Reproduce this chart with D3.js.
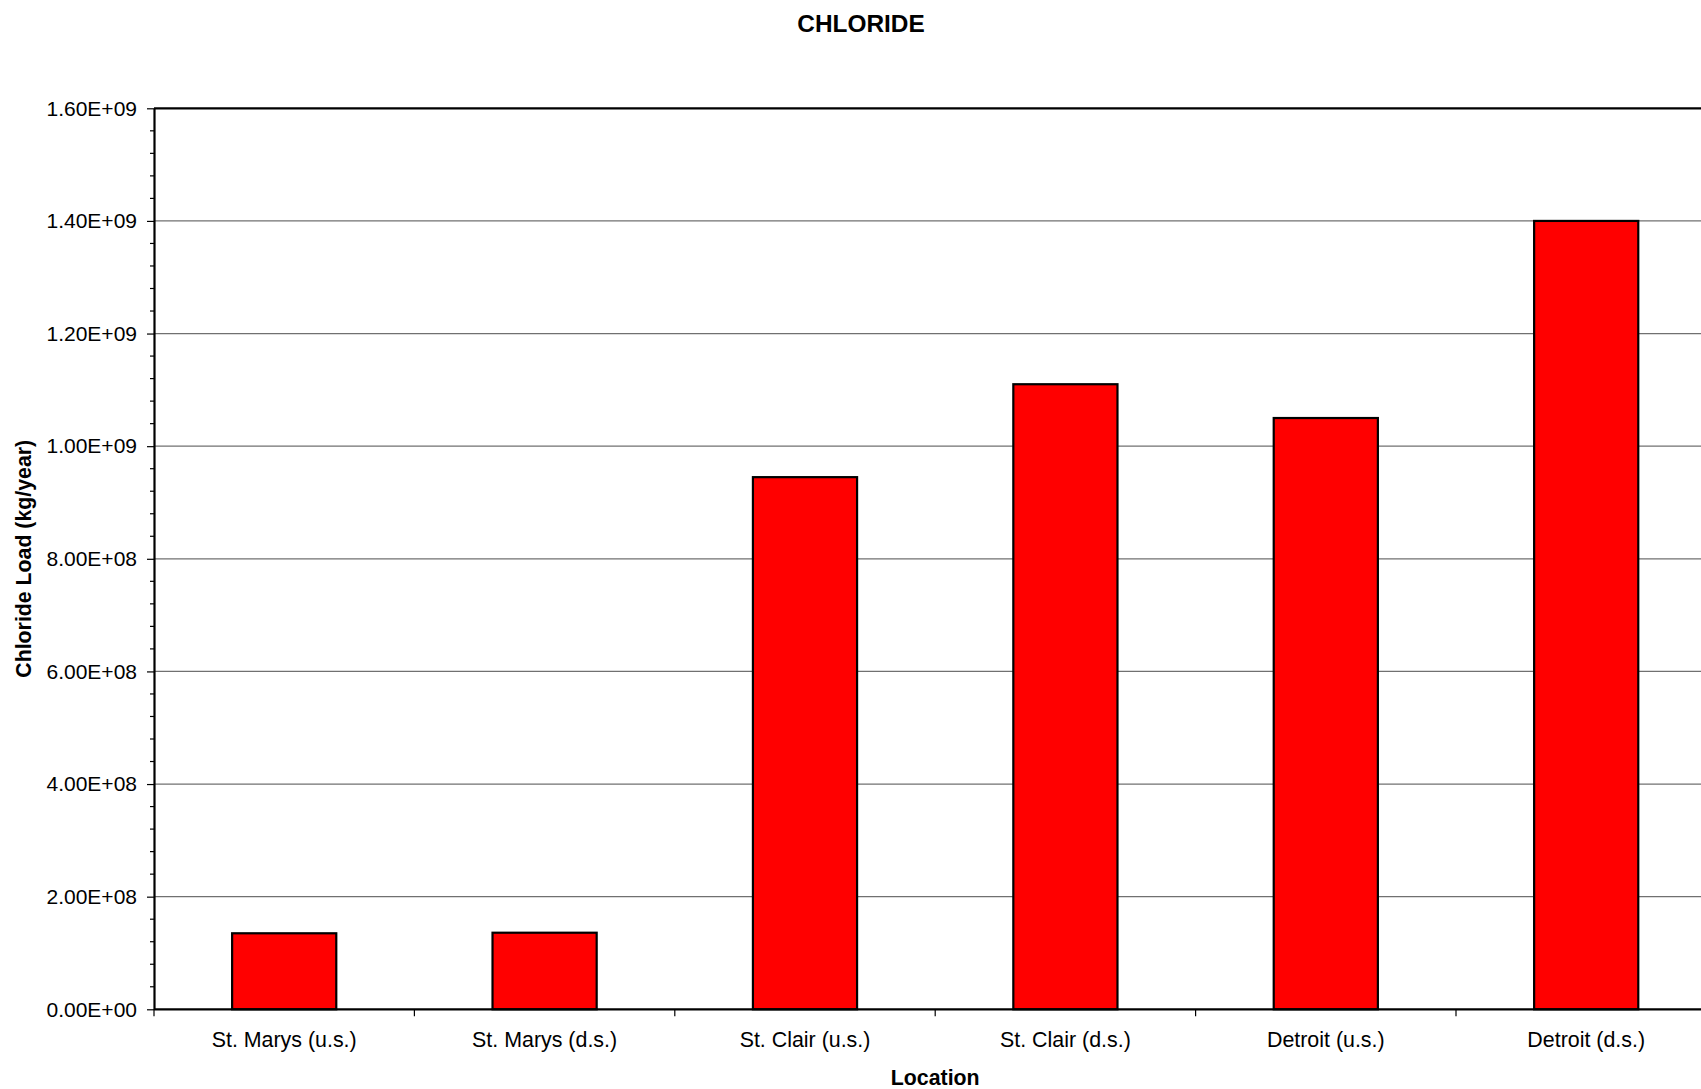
<!DOCTYPE html>
<html>
<head>
<meta charset="utf-8">
<script src="https://cdn.jsdelivr.net/npm/d3@7"></script>
<style>
  html, body { margin: 0; padding: 0; background: #fff; }
  svg { display: block; }
  text { font-family: "Liberation Sans", Arial, sans-serif; fill: #000; }
</style>
</head>
<body>
<svg id="chart" width="1701" height="1089"></svg>
<script>
const categories = ["St. Marys (u.s.)", "St. Marys (d.s.)", "St. Clair (u.s.)", "St. Clair (d.s.)", "Detroit (u.s.)", "Detroit (d.s.)"];
const chlorideLoad = [1.35e8, 1.36e8, 9.45e8, 1.11e9, 1.05e9, 1.40e9];
const yTickValues = [0, 2e8, 4e8, 6e8, 8e8, 1.0e9, 1.2e9, 1.4e9, 1.6e9];
const yMinorStep = 4e7;
const titleText = "CHLORIDE";
const xTitle = "Location";
const yTitle = "Chloride Load (kg/year)";

(function () {
const svg = d3.select("#chart");
const pLeft = 154, pTop = 108.3, plotH = 901, step = 260.4;
const plotW = step * categories.length;
const pBottom = pTop + plotH;

const x = d3.scaleBand().domain(categories).range([pLeft, pLeft + plotW]).paddingInner(0.6).paddingOuter(0.3);
const xCat = d3.scaleBand().domain(categories).range([pLeft, pLeft + plotW]).padding(0);
const y = d3.scaleLinear().domain([0, 1.6e9]).range([pBottom, pTop]);

function excelSci(v) {
  if (v === 0) return "0.00E+00";
  const e = Math.floor(Math.log10(Math.abs(v)) + 1e-9);
  const m = v / Math.pow(10, e);
  return m.toFixed(2) + "E" + (e >= 0 ? "+" : "-") + String(Math.abs(e)).padStart(2, "0");
}

// Gridlines
svg.append("g").selectAll("line").data(yTickValues.filter(d => d > 0 && d < 1.6e9)).join("line")
  .attr("x1", pLeft).attr("x2", pLeft + plotW)
  .attr("y1", d => y(d)).attr("y2", d => y(d))
  .attr("stroke", "#707070").attr("stroke-width", 1.2);

// Plot frame top & right
svg.append("line").attr("x1", pLeft).attr("x2", pLeft + plotW).attr("y1", pTop).attr("y2", pTop)
  .attr("stroke", "#000").attr("stroke-width", 2.2);
svg.append("line").attr("x1", pLeft + plotW).attr("x2", pLeft + plotW).attr("y1", pTop).attr("y2", pBottom)
  .attr("stroke", "#000").attr("stroke-width", 2.2);

// Bars
svg.append("g").selectAll("rect").data(categories).join("rect")
  .attr("x", d => x(d))
  .attr("width", x.bandwidth())
  .attr("y", (d, i) => y(chlorideLoad[i]))
  .attr("height", (d, i) => y(0) - y(chlorideLoad[i]))
  .attr("fill", "#ff0000")
  .attr("stroke", "#000")
  .attr("stroke-width", 2.2);

// Minor y ticks
const minorTicks = d3.range(0, 1.6e9 + 1, yMinorStep).filter(v => !yTickValues.some(t => Math.abs(t - v) < 1));
svg.append("g").selectAll("line").data(minorTicks).join("line")
  .attr("x1", pLeft - 4).attr("x2", pLeft)
  .attr("y1", d => y(d)).attr("y2", d => y(d))
  .attr("stroke", "#000").attr("stroke-width", 1.2);

// Y axis
const yAxis = d3.axisLeft(y).tickValues(yTickValues).tickFormat(excelSci).tickSizeInner(7).tickSizeOuter(0).tickPadding(10);
const gy = svg.append("g").attr("transform", `translate(${pLeft},0)`).call(yAxis);
gy.select(".domain").attr("stroke", "#000").attr("stroke-width", 2.2);
gy.selectAll(".tick line").attr("stroke", "#000").attr("stroke-width", 1.2);
gy.selectAll(".tick text").style("font-size", "21px").attr("fill", "#000")
  .style("font-family", "'Liberation Sans', Arial, sans-serif");

// X axis (category boundaries as ticks)
const gx = svg.append("g").attr("transform", `translate(0,${pBottom})`);
gx.append("line").attr("x1", pLeft).attr("x2", pLeft + plotW).attr("stroke", "#000").attr("stroke-width", 2.2);
const boundaries = categories.map(c => xCat(c)).concat([pLeft + plotW]);
gx.selectAll("line.tk").data(boundaries).join("line").attr("class", "tk")
  .attr("x1", d => d).attr("x2", d => d).attr("y1", 0).attr("y2", 7)
  .attr("stroke", "#000").attr("stroke-width", 1.2);
gx.selectAll("text").data(categories).join("text")
  .attr("x", d => xCat(d) + xCat.bandwidth() / 2)
  .attr("y", 37.5)
  .attr("text-anchor", "middle")
  .style("font-size", "21.4px")
  .text(d => d);

// Titles
svg.append("text").attr("x", 861).attr("y", 32).attr("text-anchor", "middle")
  .style("font-size", "24.4px").style("font-weight", "bold").text(titleText);
svg.append("text").attr("x", pLeft + plotW / 2).attr("y", 1085).attr("text-anchor", "middle")
  .style("font-size", "21.3px").style("font-weight", "bold").text(xTitle);
svg.append("text").attr("transform", `translate(31,${(pTop + pBottom) / 2}) rotate(-90)`)
  .attr("text-anchor", "middle")
  .style("font-size", "21.3px").style("font-weight", "bold").text(yTitle);
})();
</script>
</body>
</html>
